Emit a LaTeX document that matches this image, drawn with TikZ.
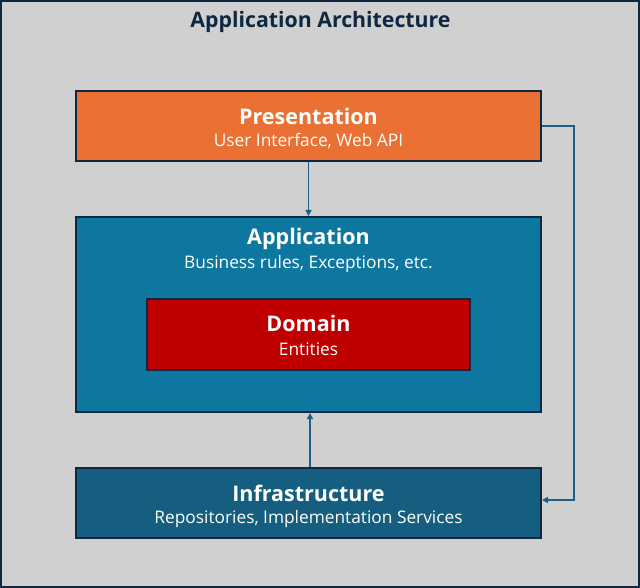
\documentclass[tikz,border=0pt]{standalone}
\usepackage{fontspec}
\setmainfont{Open Sans}
\usetikzlibrary{arrows.meta,calc}
\definecolor{bgc}{HTML}{D0D0D0}
\definecolor{navy}{HTML}{0E2841}
\definecolor{orng}{HTML}{EA7133}
\definecolor{appb}{HTML}{0E77A0}
\definecolor{domr}{HTML}{C00000}
\definecolor{infb}{HTML}{165E80}
\definecolor{conn}{HTML}{1D5F85}
\tikzset{
  layer/.style={draw=navy, line width=2pt, inner sep=0pt, minimum width=465pt, minimum height=70pt},
  headtxt/.style={text=white, inner sep=0pt, anchor=base, font=\fontsize{21.5}{26}\selectfont\bfseries},
  subtxt/.style={text=white, inner sep=0pt, anchor=base, font=\fontsize{17.3}{21}\selectfont},
  conline/.style={draw=conn, line width=1.5pt, -{Triangle[width=6pt,length=6pt]}}
}
\begin{document}
\begin{tikzpicture}[x=1pt,y=-1pt]
\useasboundingbox (0,0) rectangle (640,588);
\draw[navy, fill=bgc, line width=2pt] (1,1) rectangle (639,587);
\node[inner sep=0pt, anchor=base, text=navy, font=\fontsize{21.3}{26}\selectfont\bfseries] (title) at (320.5,27.3) {Application Architecture};

\node[layer, fill=orng] (pres) at (308.5,126) {};
\node[layer, fill=appb, minimum height=195pt] (app) at (308.5,314.5) {};
\node[layer, fill=domr, minimum width=323pt, minimum height=71pt] (dom) at (308.5,334.5) {};
\node[layer, fill=infb] (infra) at (308.5,503) {};

\node[headtxt] (prest) at (308.5,124.5) {Presentation};
\node[subtxt] (press) at (308.5,146.7) {User Interface, Web API};
\node[headtxt] (appt) at (308.5,245) {Application};
\node[subtxt] (apps) at (308.5,268.3) {Business rules, Exceptions, etc.};
\node[headtxt] (domt) at (308.5,331.7) {Domain};
\node[subtxt] (doms) at (308.5,355) {Entities};
\node[headtxt] (inft) at (308.5,501.7) {Infrastructure};
\node[subtxt] (infs) at (308.5,523.3) {Repositories, Implementation Services};

\draw[conline] (pres.south) -- (app.north);
\draw[conline] ($(infra.north)+(1.5,0)$) -- ($(app.south)+(1.5,0)$);
\coordinate (rt) at (574,126);
\coordinate (rb) at (574,500);
\draw[conline] (pres.east) -- (rt) -- (rb) -- (infra.east |- rb);
\end{tikzpicture}
\end{document}
